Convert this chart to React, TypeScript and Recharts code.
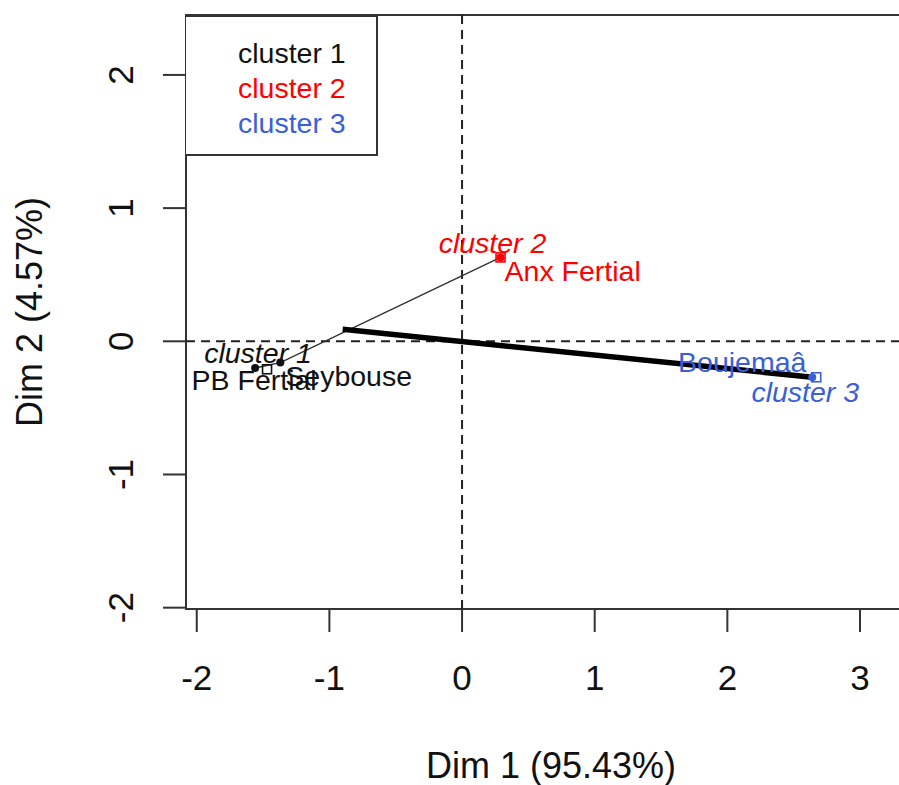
import React from "react";
import {
  ScatterChart,
  Scatter,
  XAxis,
  YAxis,
  ReferenceLine,
  ReferenceArea,
} from "recharts";

// individuals on the factor map
const individuals = ["PB Fertial", "Seybouse", "Anx Fertial", "Boujemaâ"];
const dim1 = [-1.56, -1.37, 0.29, 2.64];
const dim2 = [-0.2, -0.16, 0.63, -0.27];
const indCluster = [1, 1, 2, 3];

// cluster centres
const clusterNames = ["cluster 1", "cluster 2", "cluster 3"];
const centreDim1 = [-1.47, 0.29, 2.67];
const centreDim2 = [-0.21, 0.63, -0.27];

// tree branches drawn on the map
const thinBranchX = [-1.56, -1.37, 0.29];
const thinBranchY = [-0.2, -0.16, 0.63];
const thickBranchX = [-0.9, 2.64];
const thickBranchY = [0.09, -0.27];

const xTicks = [-2, -1, 0, 1, 2, 3];
const yTicks = [-2, -1, 0, 1, 2];

const X_MIN = -2.081;
const X_MAX = 3.422;
const Y_MIN = -2.01;
const Y_MAX = 2.45;

const FONT = "'Liberation Sans', Arial, Helvetica, sans-serif";
const CLUSTER_COLORS = ["#111111", "#ff0000", "#3a5fd6"];

const indLabelPos: Record<string, { dx: number; dy: number; anchor: string }> = {
  "PB Fertial": { dx: -1, dy: 22, anchor: "middle" },
  Seybouse: { dx: 5, dy: 23, anchor: "start" },
  "Anx Fertial": { dx: 4, dy: 24, anchor: "start" },
  "Boujemaâ": { dx: -70, dy: -5, anchor: "middle" },
};

const centreLabelPos: Record<string, { dx: number; dy: number }> = {
  "cluster 1": { dx: -9, dy: -6 },
  "cluster 2": { dx: -8, dy: -4 },
  "cluster 3": { dx: -11, dy: 25 },
};

const indData = individuals.map((name, i) => ({
  x: dim1[i],
  y: dim2[i],
  name,
  cluster: indCluster[i],
}));

const centreData = clusterNames.map((name, i) => ({
  x: centreDim1[i],
  y: centreDim2[i],
  name,
  cluster: i + 1,
}));

const thinBranch = thinBranchX.map((x, i) => ({ x, y: thinBranchY[i] }));
const thickBranch = thickBranchX.map((x, i) => ({ x, y: thickBranchY[i] }));

function IndPoint(props: any) {
  const { cx, cy, payload } = props;
  const color = CLUSTER_COLORS[payload.cluster - 1];
  const pos = indLabelPos[payload.name];
  return (
    <g>
      <circle cx={cx} cy={cy} r={4} fill={color} />
      <text
        x={cx + pos.dx}
        y={cy + pos.dy}
        textAnchor={pos.anchor as any}
        fontSize={28.5}
        fontFamily={FONT}
        fill={color}
      >
        {payload.name}
      </text>
    </g>
  );
}

function CentrePoint(props: any) {
  const { cx, cy, payload } = props;
  const color = CLUSTER_COLORS[payload.cluster - 1];
  const pos = centreLabelPos[payload.name];
  return (
    <g>
      <rect x={cx - 4.5} y={cy - 4.5} width={9} height={9} fill="none" stroke={color} strokeWidth={1.6} />
      <text
        x={cx + pos.dx}
        y={cy + pos.dy}
        textAnchor="middle"
        fontSize={28.5}
        fontStyle="italic"
        fontFamily={FONT}
        fill={color}
      >
        {payload.name}
      </text>
    </g>
  );
}

function XTick(props: any) {
  const { x, y, payload } = props;
  return (
    <text x={x} y={y + 58} textAnchor="middle" fontSize={35} fontFamily={FONT} fill="#111">
      {payload.value}
    </text>
  );
}

function YTick(props: any) {
  const { x, y, payload } = props;
  const bx = x - 30;
  return (
    <text
      x={bx}
      y={y}
      transform={`rotate(-90, ${bx}, ${y})`}
      textAnchor="middle"
      fontSize={35}
      fontFamily={FONT}
      fill="#111"
    >
      {payload.value}
    </text>
  );
}

function XTitle(props: any) {
  const vb = props.viewBox;
  return (
    <text x={vb.x + vb.width / 2} y={vb.y + 169} textAnchor="middle" fontSize={36} fontFamily={FONT} fill="#111">
      Dim 1 (95.43%)
    </text>
  );
}

function YTitle(props: any) {
  const vb = props.viewBox;
  const bx = vb.x + 42;
  const cy = vb.y + vb.height / 2;
  return (
    <text
      x={bx}
      y={cy}
      transform={`rotate(-90, ${bx}, ${cy})`}
      textAnchor="middle"
      fontSize={36}
      fontFamily={FONT}
      fill="#111"
    >
      Dim 2 (4.57%)
    </text>
  );
}

const hidden = () => <g />;

export default function App() {
  return (
    <div
      style={{
        position: "absolute",
        left: 0,
        top: 0,
        width: 899,
        height: 785,
        overflow: "hidden",
        background: "#fff",
      }}
    >
      <ScatterChart width={920} height={785} margin={{ top: 15, right: 4, bottom: 0, left: 0 }}>
        <XAxis
          type="number"
          dataKey="x"
          domain={[X_MIN, X_MAX]}
          ticks={xTicks}
          allowDataOverflow
          height={176}
          axisLine={false}
          tickLine={{ stroke: "#333", strokeWidth: 2 }}
          tickSize={23}
          tickMargin={0}
          tick={<XTick />}
          label={<XTitle />}
        />
        <YAxis
          type="number"
          dataKey="y"
          domain={[Y_MIN, Y_MAX]}
          ticks={yTicks}
          allowDataOverflow
          width={186}
          axisLine={false}
          tickLine={{ stroke: "#333", strokeWidth: 2 }}
          tickSize={23}
          tickMargin={0}
          tick={<YTick />}
          label={<YTitle />}
        />
        <ReferenceLine x={0} stroke="#222" strokeWidth={2} strokeDasharray="9 6" />
        <ReferenceLine y={0} stroke="#222" strokeWidth={2} strokeDasharray="9 6" />
        <Scatter
          data={thinBranch}
          shape={hidden}
          line={{ stroke: "#333", strokeWidth: 1.5 }}
          isAnimationActive={false}
        />
        <Scatter
          data={thickBranch}
          shape={hidden}
          line={{ stroke: "#000", strokeWidth: 5.5 }}
          isAnimationActive={false}
        />
        <Scatter data={centreData} shape={<CentrePoint />} isAnimationActive={false} />
        <Scatter data={indData} shape={<IndPoint />} isAnimationActive={false} />
        <ReferenceArea
          x1={X_MIN}
          x2={X_MAX}
          y1={Y_MIN}
          y2={Y_MAX}
          fill="none"
          fillOpacity={0}
          stroke="#333"
          strokeWidth={2}
        />
      </ScatterChart>
      <div
        style={{
          position: "absolute",
          left: 186,
          top: 15,
          width: 192,
          height: 141,
          boxSizing: "border-box",
          border: "2px solid #333",
          borderLeft: "none",
          fontFamily: FONT,
          fontSize: 28.5,
          lineHeight: "35px",
          paddingTop: 19,
          paddingLeft: 52,
          background: "#fff",
        }}
      >
        {clusterNames.map((name, i) => (
          <div key={name} style={{ color: CLUSTER_COLORS[i] }}>
            {name}
          </div>
        ))}
      </div>
    </div>
  );
}
